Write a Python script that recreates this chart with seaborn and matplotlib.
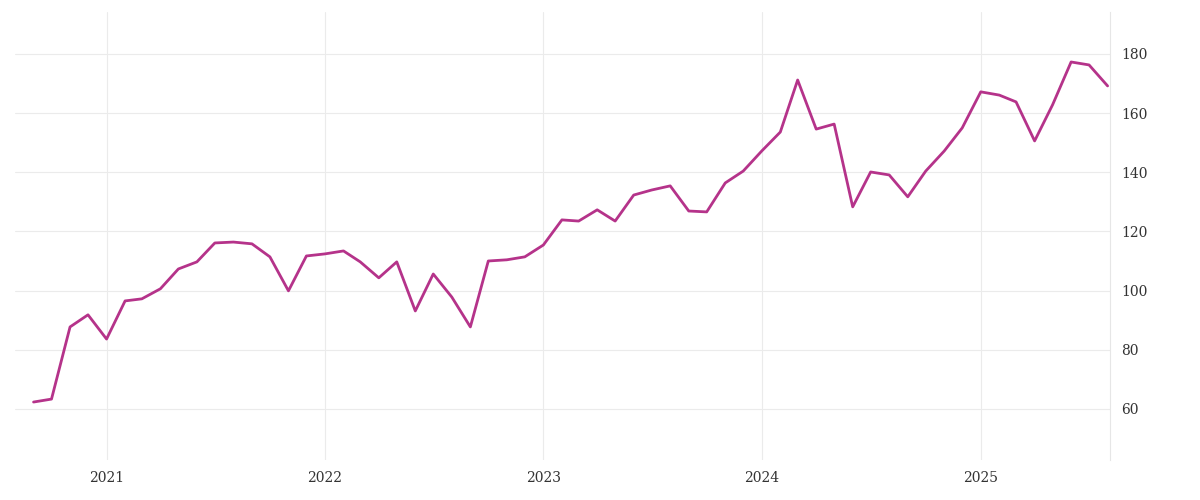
import matplotlib
matplotlib.use("Agg")
import matplotlib.pyplot as plt
import matplotlib.dates as mdates
import seaborn as sns
import pandas as pd

start_month = "2020-09-01"
values = [62.3, 63.3, 87.7, 91.8, 83.6, 96.5, 97.2, 100.6, 107.3, 109.7,
          116.1, 116.4, 115.8, 111.4, 99.9, 111.7, 112.4, 113.4, 109.7, 104.3,
          109.7, 93.1, 105.6, 97.8, 87.7, 110.0, 110.4, 111.4, 115.4, 123.9,
          123.5, 127.3, 123.5, 132.3, 134.0, 135.4, 126.9, 126.6, 136.4, 140.4,
          147.2, 153.6, 171.2, 154.6, 156.3, 128.3, 140.1, 139.1, 131.7, 140.4,
          147.2, 155.0, 167.2, 166.1, 163.8, 150.6, 162.8, 177.3, 176.3, 169.2]
y_ticks = [60, 80, 100, 120, 140, 160, 180]
x_tick_labels = ["2021", "2022", "2023", "2024", "2025"]

df = pd.DataFrame({"date": pd.date_range(start_month, periods=len(values), freq="MS"),
                   "value": values})

sns.set_style("white")
fig = plt.figure(figsize=(12, 5), dpi=100)
ax = fig.add_axes([15/1200, 40/500, 1095/1200, 448/500])
sns.lineplot(data=df, x="date", y="value", ax=ax, color="#b5338a", linewidth=2)

ax.set_xlim(pd.Timestamp("2020-08-01"), pd.Timestamp("2025-08-05"))
ax.set_ylim(42.7, 194.2)
ax.set_yticks(y_ticks)
ax.set_xticks([pd.Timestamp(f"{y}-01-01") for y in x_tick_labels])
ax.set_xticklabels(x_tick_labels)
ax.yaxis.tick_right()
ax.grid(True, color="#ebebeb", linewidth=0.8)
for s in ["top", "left", "bottom"]:
    ax.spines[s].set_visible(False)
ax.spines["right"].set_color("#e6e6e6")
ax.tick_params(length=0, labelsize=10, labelcolor="#333333", pad=8)
for lab in ax.get_xticklabels() + ax.get_yticklabels():
    lab.set_fontfamily("DejaVu Serif")
ax.set_xlabel("")
ax.set_ylabel("")
fig.savefig("out.png", dpi=100)
